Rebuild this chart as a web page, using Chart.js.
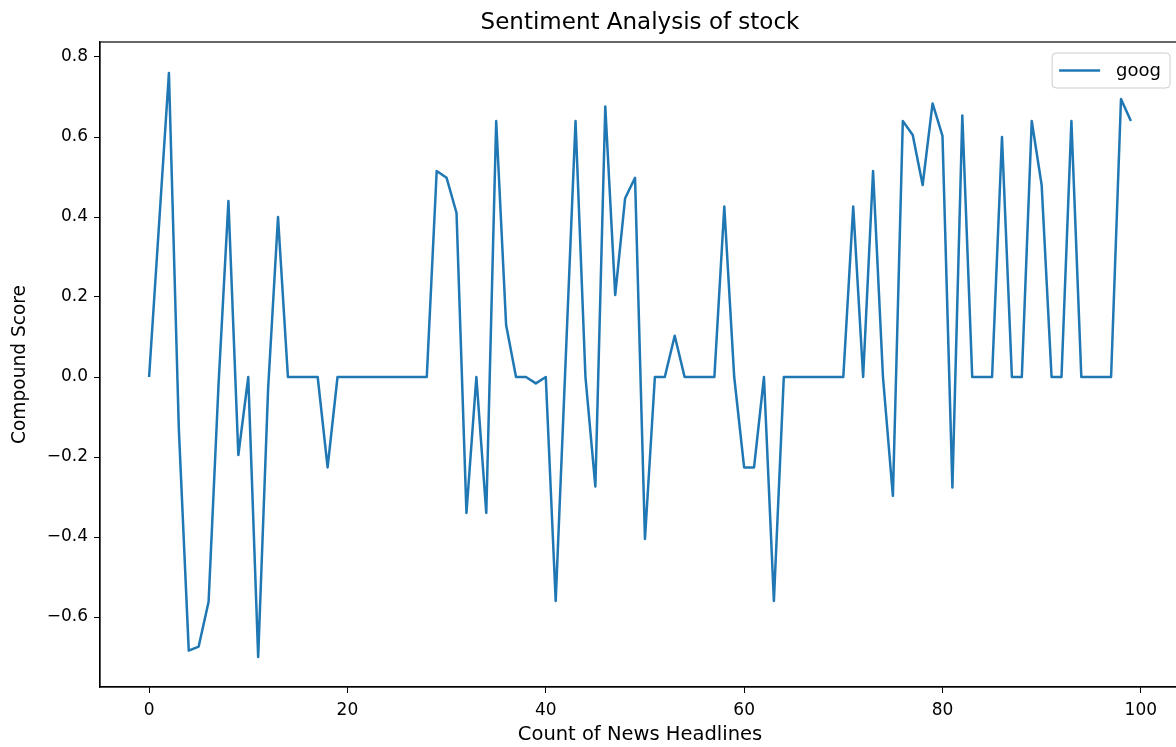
<!DOCTYPE html>
<html>
<head>
<meta charset="utf-8">
<script src="https://cdn.jsdelivr.net/npm/chart.js@4.4.1/dist/chart.umd.min.js"></script>
<style>
  html, body { margin: 0; padding: 0; background: #fff; overflow: hidden; }
  #wrap { width: 1176px; height: 747px; overflow: hidden; }
</style>
</head>
<body>
<div id="wrap"><canvas id="sentimentChart" width="1190" height="747"></canvas></div>
<script>
// compound sentiment score per headline
const seriesName = 'goog';
const chartTitle = 'Sentiment Analysis of stock';
const scores = [
    0, 0.38, 0.76, -0.13, -0.684, -0.674, -0.562, -0.02, 0.44, -0.195,
    0, -0.70, -0.03, 0.40, 0, 0, 0, 0, -0.226, 0,
    0, 0, 0, 0, 0, 0, 0, 0, 0, 0.515,
    0.498, 0.41, -0.34, 0, -0.34, 0.64, 0.13, 0, 0, -0.016,
    0, -0.56, 0.04, 0.64, 0, -0.274, 0.676, 0.205, 0.447, 0.498,
    -0.405, 0, 0, 0.103, 0, 0, 0, 0, 0.426, 0,
    -0.226, -0.226, 0, -0.56, 0, 0, 0, 0, 0, 0,
    0, 0.426, 0, 0.515, 0, -0.2975, 0.64, 0.605, 0.48, 0.684,
    0.603, -0.276, 0.654, 0, 0, 0, 0.60, 0, 0, 0.64,
    0.48, 0, 0, 0.64, 0, 0, 0, 0, 0.695, 0.64
];
const xTicks = [0, 20, 40, 60, 80, 100];
const yTicks = [-0.6, -0.4, -0.2, 0, 0.2, 0.4, 0.6, 0.8];

const lineColor = '#1f77b4';
const fontFamily = '"DejaVu Sans", sans-serif';

const points = scores.map((v, i) => ({ x: i, y: v }));

// axes frame, title centred on the axes, matplotlib style legend box
const framePlugin = {
    id: 'frame',
    afterDatasetsDraw(chart) {
        const { ctx, chartArea } = chart;
        ctx.save();
        ctx.strokeStyle = '#000';
        ctx.lineWidth = 1.2;
        ctx.strokeRect(chartArea.left, chartArea.top, chartArea.right - chartArea.left, chartArea.bottom - chartArea.top);

        // title
        ctx.font = '23px ' + fontFamily;
        ctx.fillStyle = '#000';
        ctx.textAlign = 'center';
        ctx.textBaseline = 'middle';
        ctx.fillText(chartTitle, (chartArea.left + chartArea.right) / 2, 23);

        // legend
        const ds = chart.data.datasets[0];
        ctx.font = '18px ' + fontFamily;
        const textW = ctx.measureText(ds.label).width;
        const boxW = 7 + 41 + 16 + textW + 9;
        const boxH = 35;
        const boxRight = chartArea.right - 10;
        const boxX = boxRight - boxW;
        const boxY = chartArea.top + 11;
        ctx.beginPath();
        ctx.roundRect(boxX, boxY, boxW, boxH, 4);
        ctx.fillStyle = 'rgba(255,255,255,0.8)';
        ctx.fill();
        ctx.strokeStyle = '#cccccc';
        ctx.lineWidth = 1;
        ctx.stroke();

        ctx.beginPath();
        ctx.moveTo(boxX + 7, boxY + boxH / 2);
        ctx.lineTo(boxX + 48, boxY + boxH / 2);
        ctx.strokeStyle = ds.borderColor;
        ctx.lineWidth = ds.borderWidth;
        ctx.stroke();

        ctx.fillStyle = '#000';
        ctx.textBaseline = 'middle';
        ctx.textAlign = 'left';
        ctx.fillText(ds.label, boxX + 64, boxY + boxH / 2 + 1);
        ctx.restore();
    }
};

const ctx = document.getElementById('sentimentChart').getContext('2d');
new Chart(ctx, {
    type: 'line',
    data: {
        datasets: [{
            label: seriesName,
            data: points,
            borderColor: lineColor,
            backgroundColor: lineColor,
            borderWidth: 2.5,
            pointRadius: 0,
            tension: 0,
            borderJoinStyle: 'round',
            fill: false
        }]
    },
    options: {
        responsive: false,
        animation: false,
        devicePixelRatio: 1,
        layout: { padding: { left: 0, right: 10, top: 42, bottom: 0 } },
        plugins: {
            legend: { display: false },
            tooltip: { enabled: false },
            title: { display: false }
        },
        scales: {
            x: {
                type: 'linear',
                min: -4.95,
                max: 103.95,
                afterBuildTicks: (scale) => { scale.ticks = xTicks.map(v => ({ value: v })); },
                afterFit: (scale) => { scale.height = 60; },
                grid: { drawOnChartArea: false, drawTicks: true, tickLength: 6, tickColor: '#000' },
                border: { display: true, color: '#000', width: 1.2 },
                ticks: {
                    color: '#000',
                    padding: 7,
                    maxRotation: 0,
                    autoSkip: false,
                    font: { family: fontFamily, size: 17 },
                    callback: (v) => String(v)
                },
                title: {
                    display: true,
                    text: 'Count of News Headlines',
                    color: '#000',
                    font: { family: fontFamily, size: 19.5 },
                    padding: { top: 0, bottom: 0 }
                }
            },
            y: {
                type: 'linear',
                min: -0.775,
                max: 0.8375,
                afterBuildTicks: (scale) => { scale.ticks = yTicks.map(v => ({ value: v })); },
                afterFit: (scale) => { scale.width = 100; },
                grid: { drawOnChartArea: false, drawTicks: true, tickLength: 6, tickColor: '#000' },
                border: { display: true, color: '#000', width: 1.2 },
                ticks: {
                    color: '#000',
                    padding: 6,
                    autoSkip: false,
                    font: { family: fontFamily, size: 17 },
                    callback: (v) => (v < 0 ? '\u2212' : '') + Math.abs(v).toFixed(1)
                },
                title: {
                    display: true,
                    text: 'Compound Score',
                    color: '#000',
                    font: { family: fontFamily, size: 18.6 },
                    padding: { top: 9, bottom: 0 }
                }
            }
        }
    },
    plugins: [framePlugin]
});
</script>
</body>
</html>
